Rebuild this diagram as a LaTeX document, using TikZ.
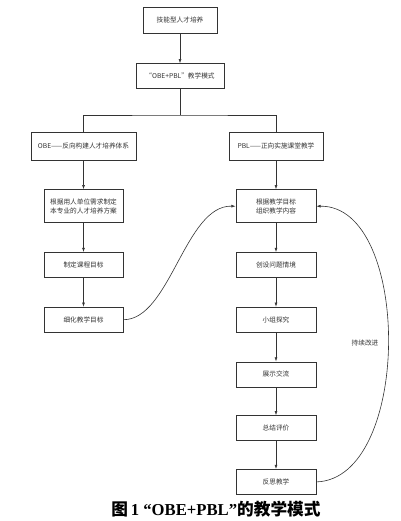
\documentclass[tikz,border=0pt]{standalone}
\usepackage{fontspec}
\setmainfont{Liberation Serif}
\newfontfamily\cjk{Noto Sans CJK SC}
\newfontfamily\cjkbf{Noto Sans CJK SC Bold}
\usetikzlibrary{arrows.meta,positioning,shadows}
\definecolor{ink}{HTML}{333333}

\begin{document}
\begin{tikzpicture}[x=0.75pt,y=-0.75pt,font=\cjk\fontsize{5}{6.5}\selectfont,
   bx/.style={draw=ink,line width=0.55pt,fill=white,text=ink,minimum width=60pt,
              minimum height=18.75pt,inner xsep=2pt,inner ysep=1.5pt,align=center,
              drop shadow={shadow xshift=0.5pt,shadow yshift=-0.5pt,fill=ink,opacity=0.7}},
   ln/.style={draw=ink,line width=0.45pt},
   arr/.style={ln,-{Latex[length=3.2pt,width=2.2pt]}}]
  \useasboundingbox (0,0) rectangle (400,521);
  \node[bx,minimum width=55.5pt,minimum height=19.5pt] (t1) at (180,20) {技能型人才培养};
  \node[bx,minimum width=66pt,below=22.5pt of t1] (t2) {“OBE+PBL”教学模式};
  \node[bx,minimum width=78.75pt,minimum height=21pt] (obe) at (83.5,146) {OBE——反向构建人才培养体系};
  \node[bx,minimum width=70.5pt,minimum height=21pt] (pbl) at (276,146) {PBL——正向实施课堂教学};
  \coordinate (j) at (180,115);
  % OBE side
  \node[bx,minimum width=59.25pt,minimum height=24.75pt,below=21.75pt of obe] (l1) {根据用人单位需求制定\\本专业的人才培养方案};
  \node[bx,minimum width=59.25pt,below=21.75pt of l1] (l2) {制定课程目标};
  \node[bx,minimum width=59.25pt,below=21.75pt of l2] (l3) {细化教学目标};
  % PBL side
  \node[bx,minimum height=24.75pt,below=21.75pt of pbl] (r1) {根据教学目标\\组织教学内容};
  \node[bx,below=21.75pt of r1] (r2) {创设问题情境};
  \node[bx,below=21.75pt of r2] (r3) {小组探究};
  \node[bx,below=21.75pt of r3] (r4) {展示交流};
  \node[bx,below=21pt of r4] (r5) {总结评价};
  \node[bx,below=21pt of r5] (r6) {反思教学};
  \node[text=ink] (fb) at (365,343) {持续改进};
  \node[font=\rmfamily\bfseries\fontsize{12.5}{14}\selectfont] (cap) at (216,509)
     {{\cjkbf 图}\,1 “OBE+PBL”{\cjkbf 的教学模式}};

  \draw[arr] (t1) -- (t2);
  \draw[ln] (t2) -- (j);
  \draw[ln] (obe.north) |- (j) -| (pbl.north);
  \draw[arr] (obe) -- (l1);
  \draw[arr] (l1) -- (l2);
  \draw[arr] (l2) -- (l3);
  \draw[arr] (pbl) -- (r1);
  \draw[arr] (r1) -- (r2);
  \draw[arr] (r2) -- (r3);
  \draw[arr] (r3) -- (r4);
  \draw[arr] (r4) -- (r5);
  \draw[arr] (r5) -- (r6);
  \draw[arr] (l3.east) .. controls (170,320) and (185,205) .. (r1.west);
  \draw[arr] (r6.east) .. controls (412,479) and (412,205) .. (r1.east);
\end{tikzpicture}
\end{document}
